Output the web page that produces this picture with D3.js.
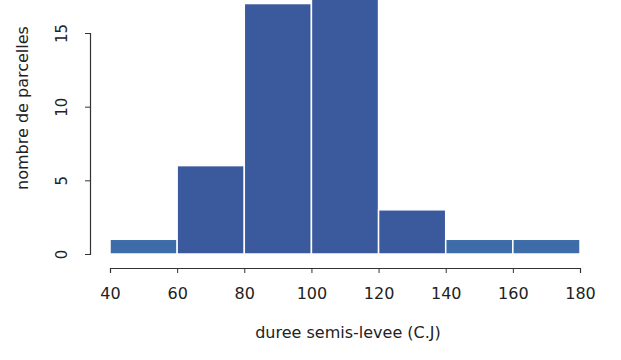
<!DOCTYPE html>
<html>
<head>
<meta charset="utf-8">
<script src="https://cdn.jsdelivr.net/npm/d3@7"></script>
<style>
  body { margin: 0; background: #fff; }
  text { font-family: "DejaVu Sans", sans-serif; fill: #222; }
</style>
</head>
<body>
<div id="chart"></div>
<script>
// histogram bins (lower, upper) and counts
var binStarts = [40, 60, 80, 100, 120, 140, 160];
var binEnds = [60, 80, 100, 120, 140, 160, 180];
var counts = [1, 6, 17, 18, 3, 1, 1];
var xTicks = [40, 60, 80, 100, 120, 140, 160, 180];
var yTicks = [0, 5, 10, 15];

var width = 621,
  height = 360;

var svg = d3.select("#chart")
  .append("svg")
  .attr("width", width)
  .attr("height", height);

var x = d3.scaleLinear().domain([40, 180]).range([110, 580]);
var y = d3.scaleLinear().domain([0, 15]).range([254, 33]);

var bins = counts.map(function(c, i) {
  return { x0: binStarts[i], x1: binEnds[i], n: c };
});

svg.selectAll(".bar")
  .data(bins)
  .enter().append("rect")
  .attr("class", "bar")
  .attr("x", function(d) { return x(d.x0); })
  .attr("width", function(d) { return x(d.x1) - x(d.x0); })
  .attr("y", function(d) { return y(d.n); })
  .attr("height", function(d) { return y(0) - y(d.n); })
  .attr("fill", function(d) { return d.n <= 1 ? "#3d6ca8" : "#3b5a9e"; })
  .attr("stroke", "#fff")
  .attr("stroke-width", 1.5);

// x axis
var xAxis = svg.append("g")
  .attr("transform", "translate(0,268)")
  .call(d3.axisBottom(x).tickValues(xTicks).tickSize(5).tickPadding(15));
xAxis.select(".domain").attr("stroke", "#333").attr("stroke-width", 1.2);
xAxis.selectAll("line").attr("stroke", "#333");
xAxis.selectAll("text").style("font-size", "16px").attr("fill", "#222");

// y axis, labels rotated like R's las=0
var yAxis = svg.append("g")
  .attr("transform", "translate(90,0)")
  .call(d3.axisLeft(y).tickValues(yTicks).tickSize(5));
yAxis.select(".domain").attr("stroke", "#333").attr("stroke-width", 1.2);
yAxis.selectAll("line").attr("stroke", "#333");
yAxis.selectAll("text")
  .style("font-size", "15px")
  .attr("fill", "#222")
  .attr("text-anchor", "middle")
  .attr("x", 0)
  .attr("y", 0)
  .attr("dy", "0.35em")
  .attr("transform", "translate(-28,0) rotate(-90)");

// axis titles
svg.append("text")
  .attr("x", 348)
  .attr("y", 338)
  .attr("text-anchor", "middle")
  .style("font-size", "16px")
  .text("duree semis-levee (C.J)");

svg.append("text")
  .attr("transform", "translate(28,108) rotate(-90)")
  .attr("text-anchor", "middle")
  .style("font-size", "16px")
  .text("nombre de parcelles");
</script>
</body>
</html>
